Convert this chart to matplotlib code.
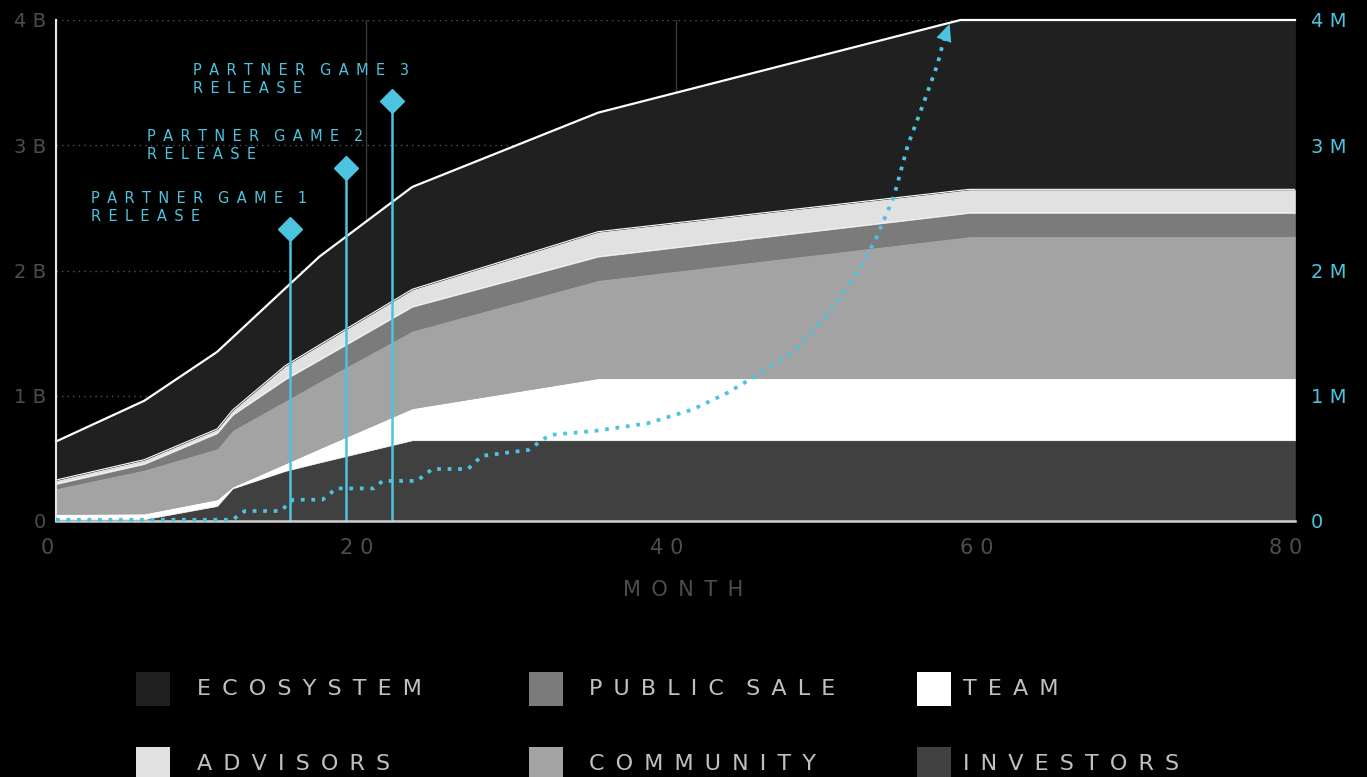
import numpy as np
import matplotlib
matplotlib.use("Agg")
import matplotlib.pyplot as plt
from matplotlib.patches import Rectangle
from matplotlib.transforms import ScaledTranslation

# token release per layer (billions)
months = [0, 5.7, 10.4, 11.4, 14.8, 17, 23, 35, 58.4, 59, 80]
investors = [0.013, 0.014, 0.12, 0.26, 0.40, 0.467, 0.645, 0.645, 0.645, 0.645, 0.645]
team = [0.043, 0.046, 0.053, 0.014, 0.059, 0.112, 0.255, 0.495, 0.495, 0.495, 0.495]
community = [0.205, 0.35, 0.407, 0.453, 0.503, 0.536, 0.62, 0.784, 1.125, 1.134, 1.134]
public_sale = [0.034, 0.045, 0.12, 0.119, 0.168, 0.17, 0.19, 0.186, 0.186, 0.186, 0.186]
advisors = [0.032, 0.035, 0.035, 0.04, 0.11, 0.12, 0.14, 0.2, 0.189, 0.188, 0.188]
ecosystem = [0.308, 0.47, 0.615, 0.579, 0.617, 0.705, 0.817, 0.95, 1.36, 1.352, 1.352]

# users (millions), right axis
user_month = [0, 11.4, 12.2, 14.5, 15.3, 17.2, 18.1, 20.5, 21.1, 23.3, 24.3, 26.6,
              27.5, 30.5, 31.4, 31.9, 34.9, 38.2, 41.1, 43.3, 45.4, 47.6, 49.8,
              51.9, 53.0, 54.1, 55.0, 56.0, 56.9, 57.3, 57.7]
users = [0.01, 0.01, 0.08, 0.08, 0.17, 0.17, 0.26, 0.26, 0.32, 0.32, 0.415, 0.415,
         0.52, 0.567, 0.647, 0.687, 0.721, 0.78, 0.89, 1.02, 1.174, 1.352, 1.645,
         2.01, 2.27, 2.59, 3.0, 3.33, 3.64, 3.83, 3.97]

# partner game releases
game_month = [15.1, 18.7, 21.7]
game_height = [2.33, 2.82, 3.35]
game_names = ["PARTNER GAME 1", "PARTNER GAME 2", "PARTNER GAME 3"]

month_ticks = [0, 20, 40, 60, 80]
left_ticks = [0, 1, 2, 3, 4]
left_labels = ["0", "1B", "2B", "3B", "4B"]
right_labels = ["0", "1M", "2M", "3M", "4M"]

legend_labels = ["ECOSYSTEM", "PUBLIC SALE", "TEAM", "ADVISORS", "COMMUNITY", "INVESTORS"]

BLUE = "#4cc4df"
GREY_TXT = "#4d4d4d"
col = {"investors": "#404040", "team": "#ffffff", "community": "#a3a3a3",
       "public": "#7b7b7b", "advisors": "#e1e1e1", "ecosystem": "#202020"}

plt.rcParams["font.family"] = ["DejaVu Sans"]

EN = "\u2002"
TPE = "\u2004"


def track(s, gap=EN):
    # fake letter spacing: gap between letters, double gap between words
    return (gap * 2).join(gap.join(w) for w in s.split(" "))


W, H = 1367, 777
fig = plt.figure(figsize=(W / 100, H / 100), dpi=100, facecolor="black")
ax = fig.add_axes([56 / W, 1 - 521 / H, (1295 - 56) / W, (521 - 20) / H])
ax.set_facecolor("black")

layers = [investors, team, community, public_sale, advisors, ecosystem]
colors = [col["investors"], col["team"], col["community"], col["public"],
          col["advisors"], col["ecosystem"]]
polys = ax.stackplot(months, layers, colors=colors, zorder=2)
for p, c in zip(polys, colors):
    p.set_edgecolor(c)
    p.set_linewidth(0.5)

tops = np.cumsum(np.array(layers), axis=0)
ax.plot(months, tops[5], color="white", lw=1.6, zorder=3, clip_on=False)
ax.plot(months, tops[4], color="white", lw=0.8, zorder=3)
ax.plot(months, tops[3], color="white", lw=0.6, alpha=0.8, zorder=3)

ax.set_xlim(0, 80)
ax.set_ylim(0, 4)
ax.set_axisbelow(True)
ax.set_xticks(month_ticks)
ax.set_xticklabels([track(str(m), TPE) for m in month_ticks])
ax.set_yticks(left_ticks)
ax.set_yticklabels([track(s, TPE) for s in left_labels])
ax.xaxis.grid(True, color="#3a3a3a", lw=1)
ax.yaxis.grid(True, color="#555555", lw=1, linestyle=(0, (1, 3)))
ax.tick_params(axis="x", length=0, pad=12, labelsize=15, labelcolor=GREY_TXT)
ax.tick_params(axis="y", length=0, pad=7, labelsize=14, labelcolor=GREY_TXT)
for lab in ax.get_xticklabels():
    lab.set_transform(lab.get_transform() + ScaledTranslation(-9 / 100, 0, fig.dpi_scale_trans))

for s in ["top", "right"]:
    ax.spines[s].set_visible(False)
ax.spines["left"].set_color("#e6e6e6")
ax.spines["left"].set_linewidth(1.5)
ax.spines["bottom"].set_color("#d0d0d0")
ax.spines["bottom"].set_linewidth(1.8)
ax.spines["left"].set_zorder(4)
ax.spines["bottom"].set_zorder(4)

# partner game stems
ax.vlines(game_month, 0, game_height, color=BLUE, lw=1.8, zorder=4)
ax.plot(game_month, game_height, "D", ms=12.5, color=BLUE, zorder=5, clip_on=False)
for m, h, name in zip(game_month, game_height, game_names):
    ax.annotate(track(name) + "\n" + track("RELEASE"), xy=(m, h), xytext=(-199, 22),
                textcoords="offset pixels", ha="left", va="center", fontsize=10.5,
                color=BLUE, linespacing=1.25, annotation_clip=False)

# users on right axis
ax2 = ax.twinx()
ax2.set_xlim(0, 80)
ax2.set_ylim(0, 4)
ax2.set_yticks(left_ticks)
ax2.set_yticklabels([track(s, TPE) for s in right_labels])
ax2.tick_params(axis="y", length=0, pad=11.5, labelsize=14, labelcolor=BLUE)
for s in ax2.spines.values():
    s.set_visible(False)
ax2.plot(user_month, users, color=BLUE, lw=2.7, linestyle=(0, (1, 1.8)),
         dash_capstyle="butt", clip_on=False)
ax2.annotate("", xy=(user_month[-1], users[-1]), xytext=(user_month[-2], users[-2]),
             arrowprops=dict(arrowstyle="-|>,head_length=1.0,head_width=0.45",
                             mutation_scale=12.5, color=BLUE, lw=0,
                             shrinkA=0, shrinkB=0))

fig.text(683 / W, 1 - 596 / H, track("MONTH"), ha="center", va="baseline",
         fontsize=15, color=GREY_TXT)

# legend, built by hand
leg_colors = [col["ecosystem"], col["public"], col["team"],
              col["advisors"], col["community"], col["investors"]]
box_x = [136, 529, 917]
text_x = [197, 589, 963]
box_top = [672, 747]
for i, (lab, c) in enumerate(zip(legend_labels, leg_colors)):
    r, k = divmod(i, 3)
    fig.add_artist(Rectangle((box_x[k] / W, 1 - (box_top[r] + 34) / H), 34 / W, 34 / H,
                             transform=fig.transFigure, color=c, lw=0))
    fig.text(text_x[k] / W, 1 - (box_top[r] + 23) / H, track(lab), ha="left",
             va="baseline", fontsize=16, color="#c0c0c0")

fig.savefig("out.png", dpi=100, facecolor="black")
